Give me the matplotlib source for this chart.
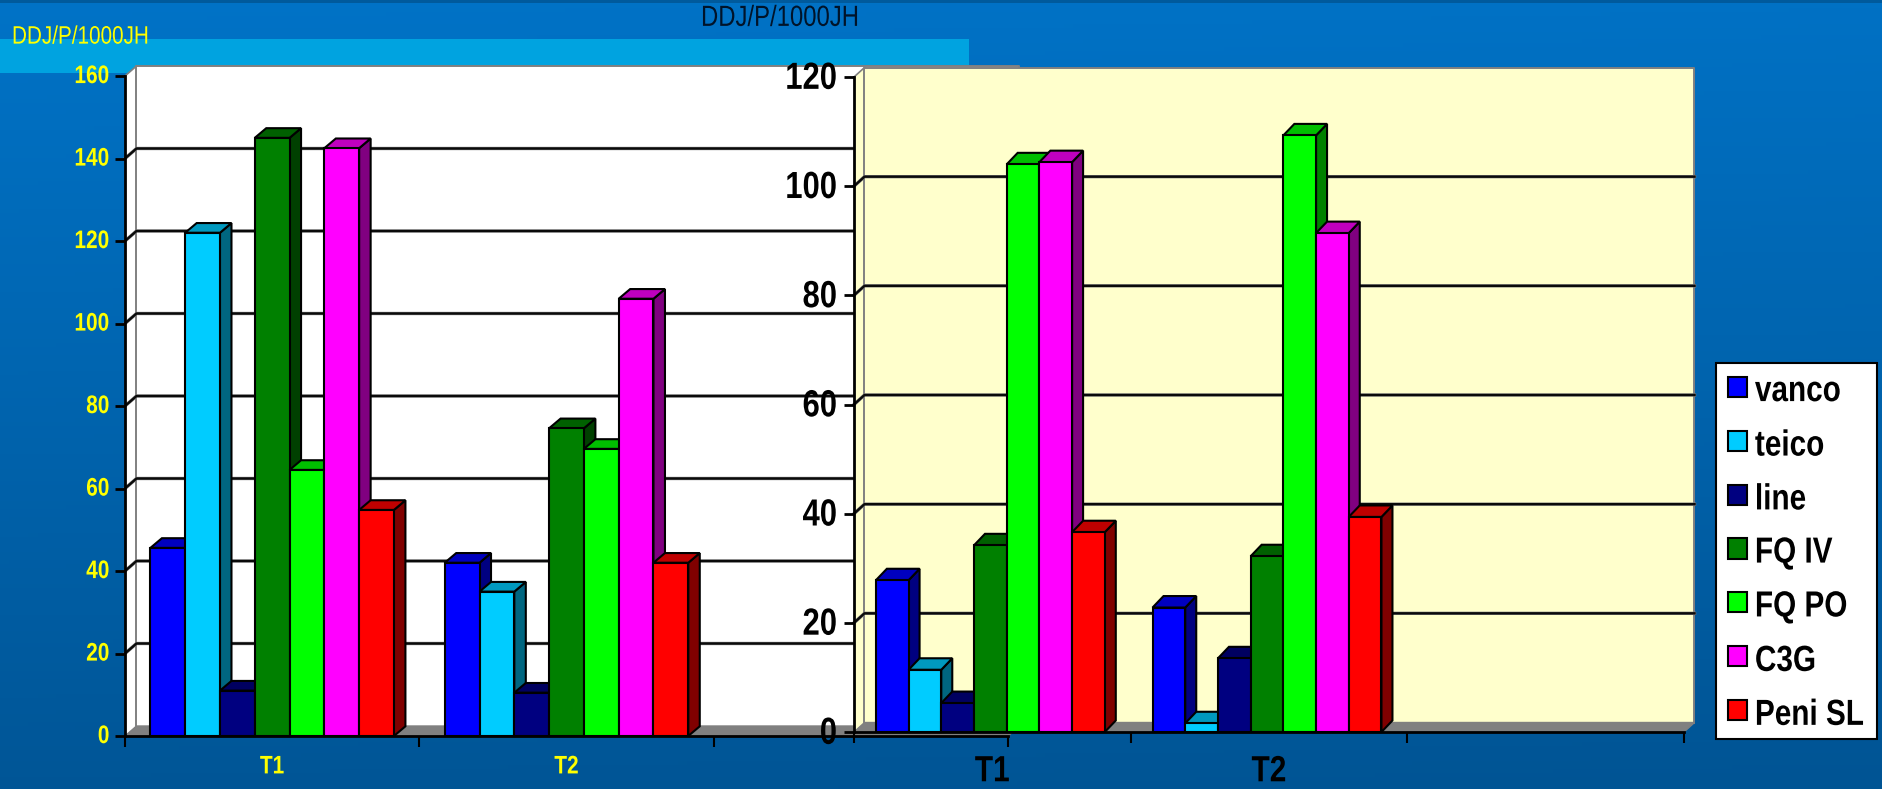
import numpy as np
import matplotlib
matplotlib.use("Agg")
import matplotlib.pyplot as plt
from matplotlib.colors import to_rgb
from matplotlib.patches import Polygon, Patch, Rectangle
from matplotlib.patheffects import AbstractPathEffect
from matplotlib.transforms import Affine2D

W, H = 1883, 789
FONT = ['Liberation Sans', 'DejaVu Sans']

# Data
categories = ['T1', 'T2', '']
series_names = ['vanco', 'teico', 'line', 'FQ IV', 'FQ PO', 'C3G', 'Peni SL']
series_colors = ['#0000FF', '#00CCFF', '#000080', '#008000', '#00FF00', '#FF00FF', '#FF0000']
left_t1 = [45.6, 122, 11, 145, 64.5, 142.5, 54.8]
left_t2 = [42, 35, 10.5, 74.6, 69.6, 106, 42]
right_t1 = [27.8, 11.4, 5.3, 34.2, 104, 104.4, 36.6]
right_t2 = [22.8, 1.6, 13.5, 32.2, 109.3, 91.4, 39.4]
left_ticks = [0, 20, 40, 60, 80, 100, 120, 140, 160]
right_ticks = [0, 20, 40, 60, 80, 100, 120]


class TallText(AbstractPathEffect):
    # the slide was stretched vertically, so the glyphs are taller than normal
    def __init__(self, f=1.22, dy=0):
        super().__init__()
        self.f = f
        self.dy = dy

    def draw_path(self, renderer, gc, tpath, affine, rgbFace=None):
        ext = tpath.get_extents(affine)
        cy = (ext.y0 + ext.y1) / 2
        stretch = Affine2D().translate(0, -cy).scale(1, self.f).translate(0, cy + self.dy)
        renderer.draw_path(gc, tpath, affine + stretch, rgbFace)


def shade(color, f):
    return tuple(c * f for c in to_rgb(color))


def make_axes(fig, x0, x1, y_top, y_bot):
    return fig.add_axes([x0 / W, 1 - y_bot / H, (x1 - x0) / W, (y_bot - y_top) / H])


def draw_chart(ax, groups, ticks, wall_color, text_color, tick_size, cat_size,
               depth_x, depth_y, bar_dx, bar_dy, tick_pad, cat_pad, bar_shift=0):
    ymax = ticks[-1]
    ncat = len(categories)
    ax.set_xlim(0, ncat)
    ax.set_ylim(0, ymax)
    ax.patch.set_visible(False)

    # convert depth from pixels to data units
    bbox = ax.get_position()
    x_unit = ncat / (bbox.width * W)
    y_unit = ymax / (bbox.height * H)
    dx, dy = depth_x * x_unit, depth_y * y_unit
    bdx, bdy = bar_dx * x_unit, bar_dy * y_unit

    # walls and floor
    ax.add_patch(Polygon([(0, 0), (dx, dy), (dx, ymax + dy), (0, ymax)], closed=True,
                         fc=wall_color, ec='none', clip_on=False, zorder=0.5))
    ax.add_patch(Polygon([(dx, dy), (ncat + dx, dy), (ncat + dx, ymax + dy), (dx, ymax + dy)],
                         closed=True, fc=wall_color, ec='none', clip_on=False, zorder=0.5))
    ax.add_patch(Polygon([(0, 0), (dx, dy), (ncat + dx, dy), (ncat, 0)], closed=True,
                         fc='#808080', ec='#808080', clip_on=False, zorder=0.6))
    ax.plot([dx, dx, ncat + dx, ncat + dx], [dy, ymax + dy, ymax + dy, dy], color='#808080',
            lw=1.4, clip_on=False, zorder=0.7)
    ax.plot([0, dx], [ymax, ymax + dy], color='#808080', lw=1.2, clip_on=False, zorder=0.7)

    # gridlines run along the back wall, with a short diagonal on the side wall
    for t in ticks[1:-1]:
        ax.plot([0, dx, ncat + dx], [t, t + dy, t + dy], color='#808080', lw=2.4,
                clip_on=False, zorder=0.8)
        ax.plot([0, dx, ncat + dx], [t, t + dy, t + dy], color='#0a0a0a', lw=1.7,
                clip_on=False, zorder=0.9)

    # bars, left to right so the next bar hides the side of the one before
    width = 0.1182
    offset = 0.73 * width + bar_shift * x_unit
    for i, (name, color) in enumerate(zip(series_names, series_colors)):
        vals = [g[i] for g in groups]
        xs = np.arange(len(vals)) + offset + i * width
        ax.bar(xs, vals, width=width, align='edge', color=color, edgecolor='black',
               linewidth=1.5, clip_on=False, zorder=3.5 + i)
        for x, v in zip(xs, vals):
            ax.add_patch(Polygon([(x + width, 0), (x + width + bdx, bdy), (x + width + bdx, v + bdy),
                                  (x + width, v)], closed=True, fc=shade(color, 0.5), ec='black',
                                 lw=1.5, clip_on=False, zorder=3 + i))
            ax.add_patch(Polygon([(x, v), (x + bdx, v + bdy), (x + width + bdx, v + bdy), (x + width, v)],
                                 closed=True, fc=shade(color, 0.75), ec='black', lw=1.5,
                                 clip_on=False, zorder=3 + i))

    # axes
    for s in ['top', 'right']:
        ax.spines[s].set_visible(False)
    for s in ['left', 'bottom']:
        ax.spines[s].set_color('black')
        ax.spines[s].set_linewidth(2)
        ax.spines[s].set_zorder(20)
    ax.set_yticks(ticks)
    ax.set_yticklabels([str(t) for t in ticks], family=FONT, fontweight='bold',
                       fontsize=tick_size, color=text_color)
    ax.tick_params(axis='y', length=7.2, width=2, color='black', pad=tick_pad)
    for lab in ax.get_yticklabels():
        lab.set_path_effects([TallText(dy=2)])
    ax.set_xticks(range(ncat + 1))
    ax.set_xticklabels([])
    ax.tick_params(axis='x', which='major', length=8, width=1.5, color='black')
    ax.set_xticks(np.arange(ncat) + 0.5, minor=True)
    ax.set_xticklabels(categories, minor=True, family=FONT, fontweight='bold',
                       fontsize=cat_size, color=text_color)
    ax.tick_params(axis='x', which='minor', length=0, pad=cat_pad)
    for lab in ax.get_xticklabels(minor=True):
        lab.set_path_effects([TallText()])


fig = plt.figure(figsize=(W / 100, H / 100), dpi=100)

# slide background
bg = fig.add_axes([0, 0, 1, 1], zorder=-1)
yy, xx = np.mgrid[0:1:200j, 0:1:200j]
t = np.clip(yy * 0.95 + xx * 0.05, 0, 1)[..., None]
top_col = np.array([0.0, 0.45, 0.78])
bot_col = np.array([0.0, 0.33, 0.58])
bg.imshow(top_col * (1 - t) + bot_col * t, extent=[0, W, H, 0], aspect='auto')
bg.add_patch(Rectangle((0, 0), W, 2.5, fc='#005A9C', ec='none'))
bg.add_patch(Rectangle((0, 39), 969, 34, fc='#00A3E0', ec='none'))
bg.set_xlim(0, W)
bg.set_ylim(H, 0)
bg.axis('off')

ax_left = make_axes(fig, 125, 1008, 76, 736)
draw_chart(ax_left, [left_t1, left_t2], left_ticks, 'white', '#FFFF00', 15, 15,
           11.5, 10, 11.5, 9.7, 4, 15)
ax_right = make_axes(fig, 854, 1684, 77, 732)
draw_chart(ax_right, [right_t1, right_t2], right_ticks, '#FFFFCC', 'black', 22.3, 21.5,
           10.5, 9.5, 11, 11.5, 5, 18, bar_shift=-2)

left_title = fig.text(12, H - 36.5, 'DDJ/P/1000JH', color='#FFFF00', fontsize=14.9, family=FONT,
                      transform=None, va='center')
left_title.set_path_effects([TallText()])
right_title = fig.text(701, H - 18, 'DDJ/P/1000JH', color='#00142A', fontsize=17.2, family=FONT,
                       transform=None, va='center')
right_title.set_path_effects([TallText()])

handles = [Patch(fc=c, ec='black', lw=1.5) for c in series_colors]
leg = fig.legend(handles, series_names, loc='lower left', bbox_to_anchor=(1716 / W, 1 - 739 / H),
                 borderaxespad=0, frameon=True, fancybox=False, framealpha=1, facecolor='white',
                 edgecolor='black', prop={'family': FONT, 'weight': 'bold', 'size': 21.4},
                 labelspacing=0.87, handlelength=0.62, handleheight=0.67, handletextpad=0.27,
                 borderpad=0.42)
leg.get_frame().set_linewidth(1.5)
leg.set_zorder(30)
for txt in leg.get_texts():
    txt.set_path_effects([TallText(dy=-2)])

fig.savefig('out.png', dpi=100)
